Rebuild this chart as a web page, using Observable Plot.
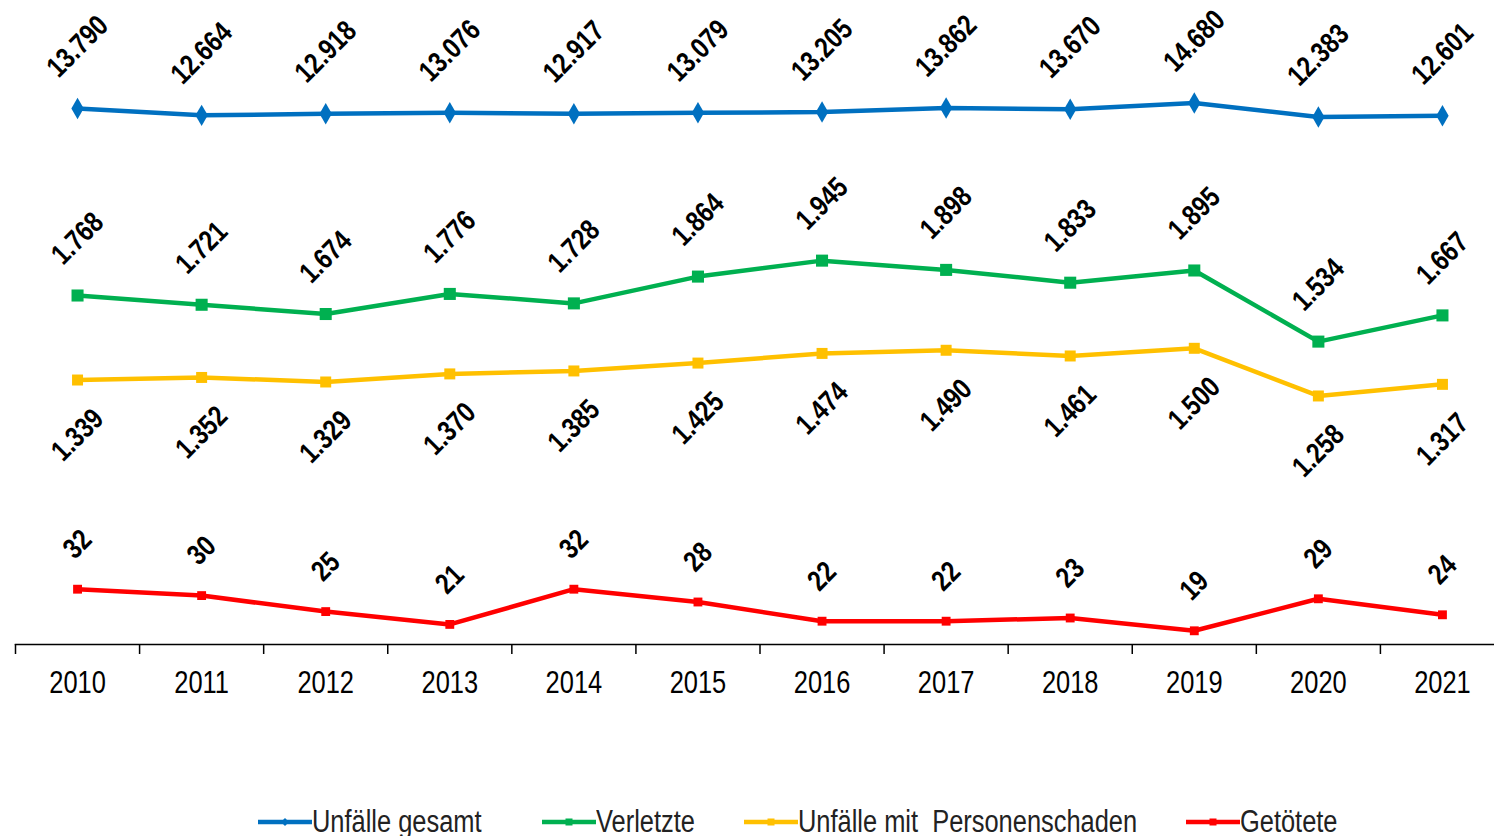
<!DOCTYPE html>
<html><head><meta charset="utf-8">
<script src="https://cdn.jsdelivr.net/npm/d3@7"></script>
<script src="https://cdn.jsdelivr.net/npm/@observablehq/plot@0.6"></script>
<style>
body{margin:0;background:#fff;}
#chart{position:relative;width:1494px;height:836px;overflow:hidden;background:#fff;}
#chart svg.layer{position:absolute;left:0;top:0;overflow:visible;background:transparent !important;}
.lg{position:absolute;top:804px;height:36px;display:flex;align-items:center;font-family:"Liberation Sans",Arial,sans-serif;font-size:31px;color:#222;white-space:pre;}
.lg span{display:inline-block;transform:scaleX(0.82);transform-origin:0 50%;}
</style></head><body><div id="chart"></div>
<script>
const years = [2010, 2011, 2012, 2013, 2014, 2015, 2016, 2017, 2018, 2019, 2020, 2021];
const unfaelleGesamt = [13790, 12664, 12918, 13076, 12917, 13079, 13205, 13862, 13670, 14680, 12383, 12601];
const verletzte = [1768, 1721, 1674, 1776, 1728, 1864, 1945, 1898, 1833, 1895, 1534, 1667];
const personenschaden = [1339, 1352, 1329, 1370, 1385, 1425, 1474, 1490, 1461, 1500, 1258, 1317];
const getoetete = [32, 30, 25, 21, 32, 28, 22, 22, 23, 19, 29, 24];
const seriesNames = ["Unfälle gesamt", "Verletzte", "Unfälle mit  Personenschaden", "Getötete"];
const colors = ["#0070C0", "#00B050", "#FFC000", "#FF0000"];

const de = d3.formatLocale({decimal: ",", thousands: ".", grouping: [3], currency: ["", " €"]});
const fmt = de.format(",d");
const rows = vals => years.map((year, i) => ({year, value: vals[i]}));

const W = 1494, H = 836;
const labelFont = '"Liberation Sans",Arial,sans-serif';
const xScale = {type: "linear", domain: [2009.5, 2021.5], range: [15, 1504]};

function seriesMarks(data, color, symbol, r, dy) {
  return [
    Plot.line(data, {x: "year", y: "value", stroke: color, strokeWidth: 4.5}),
    Plot.dot(data, {x: "year", y: "value", fill: color, symbol, r}),
    Plot.text(data, {x: "year", y: "value", text: d => fmt(d.value), rotate: -45, dy,
      fontSize: 29, fontWeight: "bold", fontFamily: labelFont, fill: "#000"})
  ];
}

function layer(y, marks) {
  const svg = Plot.plot({
    width: W, height: H, marginLeft: 15, marginRight: 0, marginTop: 0, marginBottom: 192,
    style: {background: "transparent", overflow: "visible"},
    x: {...xScale, axis: null, label: null},
    y: {...y, axis: null, label: null},
    marks
  });
  svg.classList.add("layer");
  return svg;
}

const chart = document.getElementById("chart");

// Unfälle gesamt (own scale)
chart.appendChild(layer({domain: [12000, 15000], range: [118.9, 100.6]},
  seriesMarks(rows(unfaelleGesamt), colors[0], "diamond", 6.5, -62)));

// Verletzte & Unfälle mit Personenschaden (shared scale)
chart.appendChild(layer({domain: [1200, 2000], range: [406.9, 249.3]}, [
  ...seriesMarks(rows(personenschaden), colors[2], "square", 6.2, 55),
  ...seriesMarks(rows(verletzte), colors[1], "square", 6.8, -57)
]));

// Getötete (own scale) + x axis
const boundaries = years.map(y => y - 0.5).concat([years[years.length - 1] + 0.5]);
chart.appendChild(layer({domain: [15, 35], range: [643.1, 579.1]}, [
  Plot.frame({anchor: "bottom", stroke: "#000", strokeWidth: 1.5}),
  Plot.axisX(boundaries, {anchor: "bottom", tickSize: 10, tickFormat: () => "", label: null, stroke: "#000", strokeWidth: 1.5}),
  Plot.axisX(years, {anchor: "bottom", tickSize: 0, tickPadding: 26, tickFormat: d => String(d), label: null,
    fontSize: 31, fontFamily: labelFont, fill: "#000"}),
  ...seriesMarks(rows(getoetete), colors[3], "square", 5, -45)
]));

// narrow the glyphs (Arial Narrow look)
chart.querySelectorAll("svg.layer text").forEach(t => {
  const L = t.getComputedTextLength();
  if (L > 0) {
    t.setAttribute("textLength", (L * 0.82).toFixed(1));
    t.setAttribute("lengthAdjust", "spacingAndGlyphs");
  }
});

// Legend
const legendLeft = [258, 542, 744, 1186];
const legendSym = ["diamond", "square", "square", "square"];
seriesNames.forEach((name, i) => {
  const item = document.createElement("div");
  item.className = "lg";
  item.style.left = legendLeft[i] + "px";
  const sym = legendSym[i] === "diamond"
    ? `<path d="M27,3 L31,7 L27,11 L23,7 Z" fill="${colors[i]}"/>`
    : `<rect x="23.5" y="3.5" width="7" height="7" fill="${colors[i]}"/>`;
  item.innerHTML = `<svg width="54" height="14" viewBox="0 0 54 14"><line x1="0" x2="54" y1="7" y2="7" stroke="${colors[i]}" stroke-width="4.5"/>${sym}</svg><span>${name}</span>`;
  chart.appendChild(item);
});
</script>
</body></html>
